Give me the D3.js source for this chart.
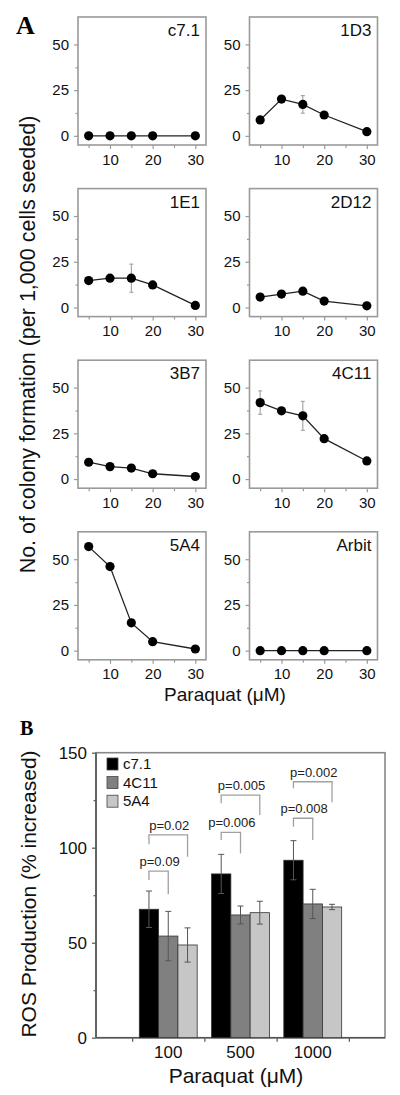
<!DOCTYPE html>
<html><head><meta charset="utf-8">
<script src="https://cdn.jsdelivr.net/npm/d3@7"></script>
<style>
html,body{margin:0;padding:0;background:#fff;}
svg{display:block;font-family:"Liberation Sans",Arial,sans-serif;}
</style></head>
<body>
<svg id="chart" width="400" height="1095"></svg>
<script>
// ---------- Panel A data ----------
const paraquatA = [5, 10, 15, 20, 30];
const clones = ["c7.1", "1D3", "1E1", "2D12", "3B7", "4C11", "5A4", "Arbit"];
const colC71  = [0, 0, 0, 0, 0];
const col1D3  = [8.7, 20.1, 17.2, 11.4, 2.3];
const col1E1  = [14.7, 16, 16, 12.3, 1.1];
const col2D12 = [5.7, 7.3, 8.9, 3.5, 0.9];
const col3B7  = [9.2, 6.8, 6.0, 2.9, 1.4];
const col4C11 = [41.8, 37.3, 34.6, 22.1, 9.9];
const col5A4  = [56.9, 46, 15.2, 4.9, 0.9];
const colArbit= [0, 0, 0, 0, 0];
const errC71  = [0, 0, 0, 0, 0];
const err1D3  = [0, 0, 4.8, 0, 0];
const err1E1  = [0, 0, 7.7, 0, 0];
const err2D12 = [0, 0, 0, 0, 0];
const err3B7  = [0, 0, 0, 0, 0];
const err4C11 = [6.4, 0, 7.9, 0, 0];
const err5A4  = [0, 0, 0, 0, 0];
const errArbit= [0, 0, 0, 0, 0];
const yTicksA = [0, 25, 50];
const yMinorA = [12.5, 37.5];
const xTicksA = [10, 20, 30];
const xMinorA = [5, 15, 25];

// ---------- Panel B data ----------
const doses = ["100", "500", "1000"];
const seriesB = ["c7.1", "4C11", "5A4"];
const rosC71  = [67.6, 86.2, 93.4];
const ros4C11 = [53.5, 64.6, 70.4];
const ros5A4  = [48.8, 65.8, 68.8];
const rosErrC71  = [9.6, 10.3, 10.3];
const rosErr4C11 = [13, 4.7, 7.7];
const rosErr5A4  = [9, 6, 1.4];
const yTicksB = [0, 50, 100, 150];
const yMinorB = [25, 75, 125];
const pLabels = ["p=0.09", "p=0.02", "p=0.006", "p=0.005", "p=0.008", "p=0.002"];
const pGroup  = [0, 0, 1, 1, 2, 2];
const pOther  = [1, 2, 1, 2, 1, 2];
const pLevel  = [87.7, 106.7, 108.1, 127.7, 115.5, 134.7];
const pLeftEnd  = [83, 101.8, 104, 123.4, 111, 131.3];
const pRightEnd = [75.5, 95.3, 97, 117.2, 104, 123.9];

const svg = d3.select("#chart");
const FONT = '"Liberation Sans",Arial,sans-serif';

// ---------- Panel A ----------
const colVals = [colC71, col1D3, col1E1, col2D12, col3B7, col4C11, col5A4, colArbit];
const colErrs = [errC71, err1D3, err1E1, err2D12, err3B7, err4C11, err5A4, errArbit];
const boxW = 128, boxH = 128;
const colX = [78, 249.5];
const rowY = [17, 188.6, 360.2, 531.8];
const frameA = "#9a9a9a";

clones.forEach((name, i) => {
  const cx = colX[i % 2], cy = rowY[Math.floor(i / 2)];
  const g = svg.append("g").attr("transform", `translate(${cx},${cy})`);
  const x = d3.scaleLinear().domain([2.5, 32.5]).range([0, boxW]);
  const y = d3.scaleLinear().domain([-5, 65]).range([boxH, 0]);

  const yAx = g.append("g").call(d3.axisLeft(y).tickValues(yTicksA).tickSize(4).tickSizeOuter(0).tickPadding(5));
  const yAxm = g.append("g").call(d3.axisLeft(y).tickValues(yMinorA).tickSize(2.5).tickSizeOuter(0).tickFormat(""));
  const xAx = g.append("g").attr("transform", `translate(0,${boxH})`)
    .call(d3.axisBottom(x).tickValues(xTicksA).tickSize(4).tickSizeOuter(0).tickPadding(5));
  const xAxm = g.append("g").attr("transform", `translate(0,${boxH})`)
    .call(d3.axisBottom(x).tickValues(xMinorA).tickSize(3).tickSizeOuter(0).tickFormat(""));
  [yAx, yAxm, xAx, xAxm].forEach(a => {
    a.select(".domain").remove();
    a.selectAll(".tick line").attr("stroke", frameA).attr("stroke-width", 1.2);
    a.selectAll(".tick text").attr("fill", "#111").style("font-size", "15px").style("font-family", FONT);
  });

  g.append("rect").attr("x", 0).attr("y", 0).attr("width", boxW).attr("height", boxH)
    .attr("fill", "none").attr("stroke", frameA).attr("stroke-width", 1.6);

  const pts = paraquatA.map((d, k) => ({x: d, v: colVals[i][k], e: colErrs[i][k]}));
  const eb = pts.filter(p => p.e > 0);
  g.selectAll(".ev").data(eb).join("line")
    .attr("x1", p => x(p.x)).attr("x2", p => x(p.x))
    .attr("y1", p => y(p.v - p.e)).attr("y2", p => y(p.v + p.e))
    .attr("stroke", "#999").attr("stroke-width", 1);
  g.selectAll(".ec").data(eb.flatMap(p => [p.v - p.e, p.v + p.e].map(v => ({x: p.x, v})))).join("line")
    .attr("x1", p => x(p.x) - 2).attr("x2", p => x(p.x) + 2)
    .attr("y1", p => y(p.v)).attr("y2", p => y(p.v))
    .attr("stroke", "#999").attr("stroke-width", 1);

  g.append("path").datum(pts)
    .attr("d", d3.line().x(p => x(p.x)).y(p => y(p.v)))
    .attr("fill", "none").attr("stroke", "#222").attr("stroke-width", 1.3);
  g.selectAll("circle").data(pts).join("circle")
    .attr("cx", p => x(p.x)).attr("cy", p => y(p.v)).attr("r", 4.6).attr("fill", "#000");

  g.append("text").attr("x", boxW - 6).attr("y", 19).attr("text-anchor", "end")
    .style("font-size", "17px").attr("fill", "#111").text(name);
});

svg.append("text").attr("x", 16).attr("y", 34).style("font-family", '"Liberation Serif","Times New Roman",serif')
  .style("font-weight", "bold").style("font-size", "26px").text("A");

svg.append("text").attr("transform", "translate(35,344.5) rotate(-90)").attr("text-anchor", "middle")
  .style("font-size", "21.5px").attr("fill", "#111").text("No. of colony formation (per 1,000 cells seeded)");

svg.append("text").attr("x", 225).attr("y", 701).attr("text-anchor", "middle")
  .style("font-size", "19px").attr("fill", "#111").text("Paraquat (\u03BCM)");

// ---------- Panel B ----------
const bL = 96, bR = 385, bT = 752.7, bB = 1037.7;
const gB = svg.append("g");
const xB = d3.scaleLinear().domain([0.5, 4.5]).range([bL, bR]);
const yB = d3.scaleLinear().domain([0, 150]).range([bB, bT]);
const grpCenter = doses.map((d, i) => xB(i + 1.5));
const barW = xB(0.767) - xB(0.5);
const frameB = "#888";

const yAxB = gB.append("g").attr("transform", `translate(${bL},0)`)
  .call(d3.axisLeft(yB).tickValues(yTicksB).tickSize(4).tickSizeOuter(0).tickPadding(5));
const yAxBm = gB.append("g").attr("transform", `translate(${bL},0)`)
  .call(d3.axisLeft(yB).tickValues(yMinorB).tickSize(2.5).tickSizeOuter(0).tickFormat(""));
const xAxBt = gB.append("g").attr("transform", `translate(0,${bB})`)
  .call(d3.axisBottom(xB).tickValues([1, 2, 3, 4]).tickSize(4).tickSizeOuter(0).tickFormat(""));
[yAxB, yAxBm, xAxBt].forEach(a => {
  a.select(".domain").remove();
  a.selectAll(".tick line").attr("stroke", "#555").attr("stroke-width", 1.2);
  a.selectAll(".tick text").attr("fill", "#111").style("font-size", "17px").style("font-family", FONT);
});
gB.selectAll(".doseLbl").data(doses).join("text")
  .attr("x", (d, i) => grpCenter[i]).attr("y", bB + 20.5).attr("text-anchor", "middle")
  .style("font-size", "17px").attr("fill", "#111").text(d => d);

gB.append("rect").attr("x", bL).attr("y", bT).attr("width", bR - bL).attr("height", bB - bT)
  .attr("fill", "none").attr("stroke", frameB).attr("stroke-width", 1.6);
gB.append("line").attr("x1", bL).attr("x2", bR).attr("y1", bB).attr("y2", bB).attr("stroke", "#555").attr("stroke-width", 1.6);
gB.append("line").attr("x1", bL).attr("x2", bL).attr("y1", bT).attr("y2", bB).attr("stroke", "#555").attr("stroke-width", 1.6);

const rosVals = [rosC71, ros4C11, ros5A4];
const rosErrs = [rosErrC71, rosErr4C11, rosErr5A4];
const colorsB = ["#000000", "#808080", "#c6c6c6"];
const barData = [];
seriesB.forEach((s, si) => doses.forEach((d, di) => barData.push({
  si, di, v: rosVals[si][di], e: rosErrs[si][di],
  cx: grpCenter[di] + (si - 1) * barW
})));

gB.selectAll(".bar").data(barData).join("rect")
  .attr("x", b => b.cx - barW / 2).attr("width", barW)
  .attr("y", b => yB(b.v)).attr("height", b => bB - yB(b.v))
  .attr("fill", b => colorsB[b.si]).attr("stroke", "#333").attr("stroke-width", 0.8);
gB.selectAll(".bev").data(barData).join("line")
  .attr("x1", b => b.cx).attr("x2", b => b.cx)
  .attr("y1", b => yB(b.v - b.e)).attr("y2", b => yB(b.v + b.e))
  .attr("stroke", "#555").attr("stroke-width", 1);
gB.selectAll(".bec").data(barData.flatMap(b => [b.v - b.e, b.v + b.e].map(v => ({cx: b.cx, v})))).join("line")
  .attr("x1", b => b.cx - 3).attr("x2", b => b.cx + 3)
  .attr("y1", b => yB(b.v)).attr("y2", b => yB(b.v))
  .attr("stroke", "#555").attr("stroke-width", 1);

pLabels.forEach((lbl, i) => {
  const xl = grpCenter[pGroup[i]] - barW;
  const xr = grpCenter[pGroup[i]] + (pOther[i] - 1) * barW;
  const lv = yB(pLevel[i]);
  gB.append("path")
    .attr("d", `M${xl},${yB(pLeftEnd[i])}V${lv}H${xr}V${yB(pRightEnd[i])}`)
    .attr("fill", "none").attr("stroke", "#a0a0a0").attr("stroke-width", 1.3);
  gB.append("text").attr("x", (xl + xr) / 2 + 1).attr("y", lv - 5).attr("text-anchor", "middle")
    .style("font-size", "13px").attr("fill", "#222").text(lbl);
});

seriesB.forEach((s, i) => {
  const ly = 758 + i * 18.6;
  gB.append("rect").attr("x", 107).attr("y", ly).attr("width", 11).attr("height", 12)
    .attr("fill", colorsB[i]).attr("stroke", "#444").attr("stroke-width", 0.8);
  gB.append("text").attr("x", 123).attr("y", ly + 11).style("font-size", "15px").attr("fill", "#111").text(s);
});

svg.append("text").attr("x", 20).attr("y", 735).style("font-family", '"Liberation Serif","Times New Roman",serif')
  .style("font-weight", "bold").style("font-size", "20px").text("B");

svg.append("text").attr("transform", "translate(36,894) rotate(-90)").attr("text-anchor", "middle")
  .style("font-size", "21px").attr("fill", "#111").text("ROS Production (% increased)");

svg.append("text").attr("x", 236).attr("y", 1083).attr("text-anchor", "middle")
  .style("font-size", "21px").attr("fill", "#111").text("Paraquat (\u03BCM)");
</script>
</body></html>
